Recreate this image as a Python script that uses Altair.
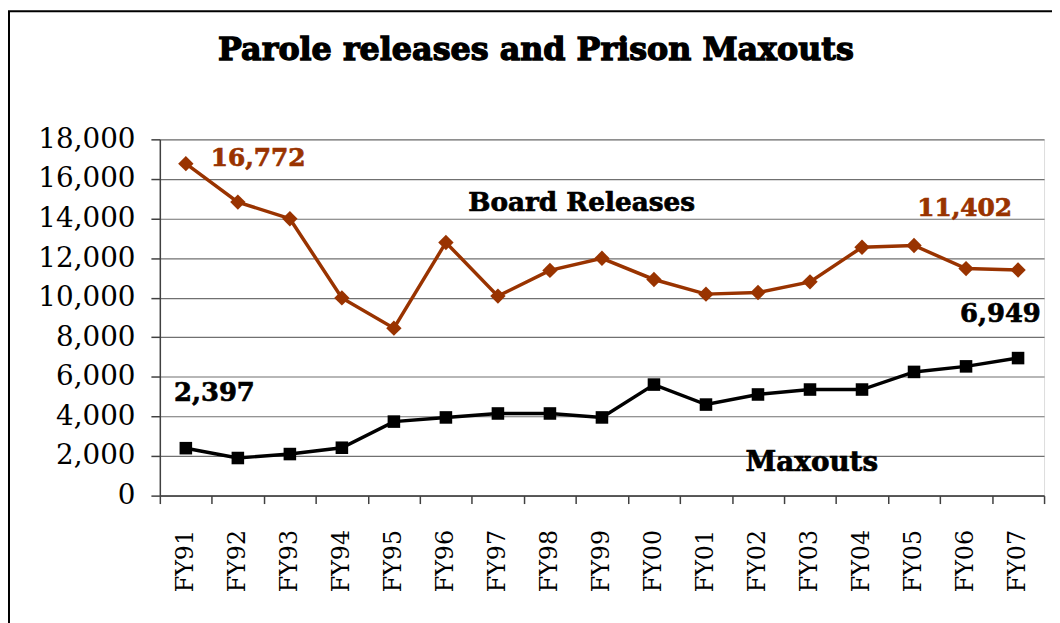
import altair as alt
import pandas as pd

years = ["FY91", "FY92", "FY93", "FY94", "FY95", "FY96", "FY97", "FY98", "FY99",
         "FY00", "FY01", "FY02", "FY03", "FY04", "FY05", "FY06", "FY07"]
board = [16772, 14830, 13990, 9990, 8460, 12790, 10080, 11380, 11990,
         10920, 10180, 10260, 10800, 12550, 12640, 11470, 11402]
maxouts = [2397, 1900, 2100, 2420, 3740, 3950, 4150, 4150, 3950,
           5610, 4600, 5110, 5360, 5360, 6250, 6530, 6949]
series = ["Board Releases", "Maxouts"]
colors = ["#993300", "#000000"]
shapes = ["diamond", "square"]

title_text = "Parole releases and Prison Maxouts"

df = pd.DataFrame({
    "year": years * 2,
    "value": board + maxouts,
    "series": [series[0]] * len(years) + [series[1]] * len(years),
})

W, H = 891, 359
FONT = "DejaVu Serif"

x_enc = alt.X(
    "year:N", sort=years,
    scale=alt.Scale(type="band", paddingInner=0, paddingOuter=0),
    axis=alt.Axis(title=None, labelAngle=-90, tickBand="extent", grid=False,
                  labelFont=FONT, labelFontSize=24, labelColor="#000000",
                  tickSize=8, tickColor="#404040", tickWidth=1.5,
                  domainColor="#404040", domainWidth=1.5, labelPadding=26),
)
y_enc = alt.Y(
    "value:Q",
    scale=alt.Scale(domain=[0, 18000], nice=False),
    axis=alt.Axis(title=None, values=list(range(0, 18001, 2000)), format=",d",
                  labelFont=FONT, labelFontSize=28, labelColor="#000000",
                  tickSize=9, tickColor="#404040", tickWidth=1.5,
                  domainColor="#404040", domainWidth=1.5, labelPadding=16,
                  gridColor="#707070", gridWidth=1.2),
)
color_enc = alt.Color("series:N", scale=alt.Scale(domain=series, range=colors), legend=None)
shape_enc = alt.Shape("series:N", scale=alt.Scale(domain=series, range=shapes), legend=None)
size_enc = alt.Size("series:N", scale=alt.Scale(domain=series, range=[240, 160]), legend=None)

base = alt.Chart(df)
lines = base.mark_line(strokeWidth=3.5).encode(x=x_enc, y=y_enc, color=color_enc, detail="series:N")
points = base.mark_point(filled=True, opacity=1).encode(
    x=x_enc, y=y_enc, color=color_enc, shape=shape_enc, size=size_enc)

one = pd.DataFrame({"a": [0]})

frame = alt.Chart(one).mark_rect(fill=None, stroke="#000000", strokeWidth=2).encode(
    x=alt.value(-152), x2=alt.value(1000), y=alt.value(-129), y2=alt.value(700))


def label(text, x, y, color="#000000", size=26, sw=0.7):
    return alt.Chart(pd.DataFrame({"t": [text]})).mark_text(
        font=FONT, fontWeight="bold", fontSize=size, color=color,
        stroke=color, strokeWidth=sw,
        align="center", baseline="alphabetic").encode(
        text="t:N", x=alt.value(x), y=alt.value(y))


texts = [
    label(title_text, 379, -80, size=32, sw=1.3),
    label("16,772", 99, 27, color=colors[0], size=25),
    label("Board Releases", 425, 72, size=26.5),
    label("11,402", 811, 77, color=colors[0], size=25),
    label("6,949", 847, 184),
    label("2,397", 55, 264),
    label("Maxouts", 657, 334, size=28),
]

chart = alt.layer(frame, lines, points, *texts).properties(
    width=W, height=H,
    autosize=alt.AutoSizeParams(type="none"),
    padding={"left": 153, "top": 130, "right": 8, "bottom": 126},
).configure_view(stroke="#808080", strokeWidth=2).configure(background="#ffffff")

chart.save("out.html", embed_options={"renderer": "svg", "actions": False})
